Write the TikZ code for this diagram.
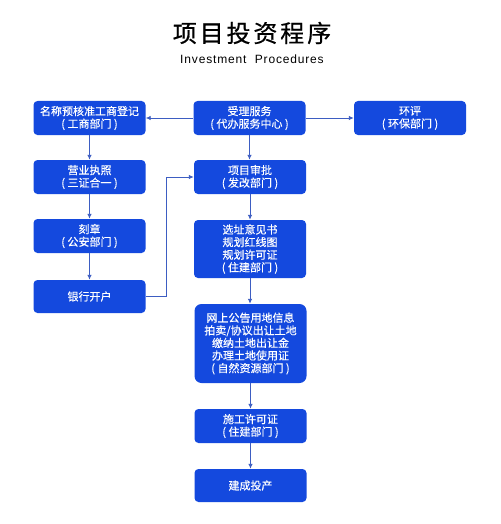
\documentclass[tikz,border=0pt]{standalone}
\usepackage{fontspec}
\setmainfont{Liberation Sans}
\newfontfamily\subfont{Liberation Sans}[LetterSpace=7]
\newfontfamily\cjk{Noto Sans CJK SC}[FakeBold=0.3]
\newfontfamily\cjktitle{Noto Sans CJK SC}[LetterSpace=12,FakeBold=0.6]
\usetikzlibrary{arrows.meta}
\definecolor{boxblue}{HTML}{1449DE}
\definecolor{linkblue}{HTML}{3D5DC2}
\begin{document}
\begin{tikzpicture}[x=1pt,y=-1pt,
  stepbox/.style={draw=none,fill=boxblue,rounded corners=4pt,text=white,
    font=\cjk\fontsize{11}{12.6}\selectfont,align=center,inner sep=0pt,
    minimum width=112pt},
  link/.style={draw=linkblue,line width=0.9pt,-{Latex[length=5pt,width=4.5pt]}}]
\useasboundingbox (0,0) rectangle (500,524);
\fill[white] (0,0) rectangle (500,524);
\node (title) at (252,33) {\cjktitle\fontsize{24}{26}\selectfont 项目投资程序};
\node (sub) at (252,59) {\subfont\fontsize{12}{13}\selectfont Investment\ \ Procedures};

\node[stepbox,minimum height=34pt] (n1) at (89.5,118) {名称预核准工商登记\\(\ 工商部门\ )};
\node[stepbox,minimum height=34pt] (n2) at (249.5,118) {受理服务\\(\ 代办服务中心\ )};
\node[stepbox,minimum height=34pt] (n3) at (410,118) {环评\\(\ 环保部门\ )};
\node[stepbox,minimum height=34pt] (n4) at (89.5,177) {营业执照\\(\ 三证合一\ )};
\node[stepbox,minimum height=34pt] (n5) at (250,177) {项目审批\\(\ 发改部门\ )};
\node[stepbox,minimum height=34pt] (n6) at (89.5,236) {刻章\\(\ 公安部门\ )};
\node[stepbox,minimum height=33pt] (n7) at (89.5,296.5) {银行开户};
\node[stepbox,minimum height=58pt] (n8) at (250,249) {选址意见书\\规划红线图\\规划许可证\\(\ 住建部门\ )};
\node[stepbox,minimum height=79pt,rounded corners=7pt] (n9) at (250.5,343.5) {网上公告用地信息\\拍卖/协议出让土地\\缴纳土地出让金\\办理土地使用证\\(\ 自然资源部门\ )};
\node[stepbox,minimum height=34pt] (n10) at (250.5,426) {施工许可证\\(\ 住建部门\ )};
\node[stepbox,minimum height=33pt] (n11) at (250.5,485.5) {建成投产};

\coordinate (bend1) at (166,296.5);
\coordinate (bend2) at (166,177);

\draw[link] (n2) -- (n1);
\draw[link] (n2) -- (n3);
\draw[link] (n1) -- (n4);
\draw[link] (n4) -- (n6);
\draw[link] (n6) -- (n7);
\draw[link] (n2.south) -- (n2.south |- n5.north);
\draw[link] (n5) -- (n8);
\draw[link] (n8.south) -- (n8.south |- n9.north);
\draw[link] (n9) -- (n10);
\draw[link] (n10) -- (n11);
\draw[link] (n7.east) -- (bend1) -- (bend2) -- (n5.west);
\end{tikzpicture}
\end{document}
